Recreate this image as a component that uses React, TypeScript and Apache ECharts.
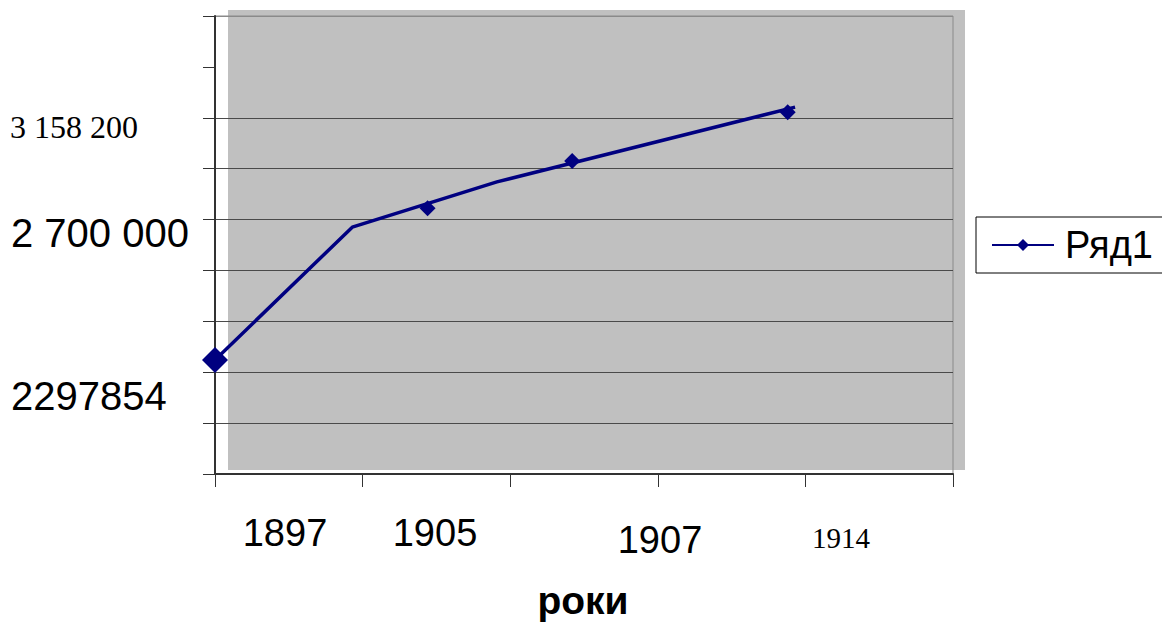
import React, { useEffect, useRef } from "react";
import * as echarts from "echarts";

// Line vertices: [x position in category-tick units, y position in gridline units]
const lineX = [0, 0.93, 1.91, 3.93];
const lineY = [2.24, 4.85, 5.74, 7.21];
// Marker points (diamonds) not on vertices
const markerX = [1.44, 2.42, 3.88];
const markerY = [5.22, 6.15, 7.11];

const seriesName = "Ряд1";
const xTickLabels = ["1897", "1905", "1907", "1914"];
const yTickLabels = ["3 158 200", "2 700 000", "2297854"];
const axisTitle = "роки";

const SANS = "'Liberation Sans', Arial, sans-serif";
const SERIF = "'Liberation Serif', 'Times New Roman', serif";

// label placement (layout only)
const xLabelPos = [
  { x: 285, y: 533, font: SANS, size: 38 },
  { x: 435, y: 533, font: SANS, size: 38 },
  { x: 660, y: 540, font: SANS, size: 38 },
  { x: 841, y: 538, font: SERIF, size: 29 },
];
const yLabelPos = [
  { x: 10, y: 127, font: SERIF, size: 32 },
  { x: 11, y: 233, font: SANS, size: 40 },
  { x: 11, y: 396, font: SANS, size: 40 },
];

export default function App() {
  const ref = useRef<HTMLDivElement>(null);
  useEffect(() => {
    if (!ref.current) return;
    const chart = echarts.init(ref.current, null, { renderer: "svg" });
    const lineData = lineX.map((x, i) =>
      i === 0
        ? { value: [x, lineY[i]], symbolSize: 26 }
        : { value: [x, lineY[i]], symbol: "none" }
    );
    const markerData = markerX.map((x, i) => [x, markerY[i]]);
    const graphics: any[] = [
      {
        type: "rect",
        z: -10,
        silent: true,
        shape: { x: 228, y: 10, width: 737, height: 460 },
        style: { fill: "#c0c0c0" },
      },
    ];
    xTickLabels.forEach((t, i) => {
      const p = xLabelPos[i];
      graphics.push({
        type: "text",
        x: p.x,
        y: p.y,
        style: {
          text: t,
          fontFamily: p.font,
          fontSize: p.size,
          fill: "#000",
          textAlign: "center",
          textVerticalAlign: "middle",
        },
      });
    });
    yTickLabels.forEach((t, i) => {
      const p = yLabelPos[i];
      graphics.push({
        type: "text",
        x: p.x,
        y: p.y,
        style: {
          text: t,
          fontFamily: p.font,
          fontSize: p.size,
          fill: "#000",
          textAlign: "left",
          textVerticalAlign: "middle",
        },
      });
    });
    graphics.push({
      type: "text",
      x: 583,
      y: 600,
      style: {
        text: axisTitle,
        fontFamily: SANS,
        fontSize: 39,
        fontWeight: "bold",
        fill: "#000",
        textAlign: "center",
        textVerticalAlign: "middle",
      },
    });

    chart.setOption({
      animation: false,
      backgroundColor: "#ffffff",
      grid: {
        left: 215,
        right: 209,
        top: 16,
        bottom: 149,
        show: true,
        backgroundColor: "transparent",
        borderColor: "#8a8a8a",
        borderWidth: 1,
      },
      legend: {
        left: 976,
        top: 217,
        padding: [9, 30, 9, 15],
        borderColor: "#000",
        borderWidth: 1,
        itemWidth: 62,
        itemHeight: 15,
        data: [seriesName],
        textStyle: {
          fontFamily: SANS,
          fontSize: 38,
          color: "#000",
          padding: [0, 0, 0, 6],
        },
      },
      xAxis: {
        type: "value",
        min: 0,
        max: 5,
        interval: 1,
        axisLine: { show: true, lineStyle: { color: "#333", width: 2 } },
        axisTick: { show: true, length: 13, lineStyle: { color: "#333" } },
        axisLabel: { show: false },
        splitLine: { show: false },
      },
      yAxis: {
        type: "value",
        min: 0,
        max: 9,
        interval: 1,
        axisLine: { show: true, lineStyle: { color: "#333", width: 2 } },
        axisTick: { show: true, length: 12, lineStyle: { color: "#333" } },
        axisLabel: { show: false },
        splitLine: {
          show: true,
          lineStyle: {
            width: 1,
            color: [
              "#4a4a4a",
              "#4a4a4a",
              "#4a4a4a",
              "#4a4a4a",
              "#4a4a4a",
              "#4a4a4a",
              "#4a4a4a",
              "#4a4a4a",
              "rgba(0,0,0,0)",
              "#8a8a8a",
            ],
          },
        },
      },
      graphic: graphics,
      series: [
        {
          name: seriesName,
          type: "line",
          data: lineData,
          symbol: "diamond",
          symbolSize: 12,
          showSymbol: true,
          clip: false,
          lineStyle: { color: "#000080", width: 3.5 },
          itemStyle: { color: "#000080", opacity: 1 },
        },
        {
          name: seriesName,
          type: "scatter",
          data: markerData,
          symbol: "diamond",
          symbolSize: 16,
          clip: false,
          itemStyle: { color: "#000080", opacity: 1 },
        },
      ],
    });
    return () => chart.dispose();
  }, []);
  return (
    <div
      ref={ref}
      style={{ position: "fixed", left: 0, top: 0, width: 1162, height: 623 }}
    />
  );
}
